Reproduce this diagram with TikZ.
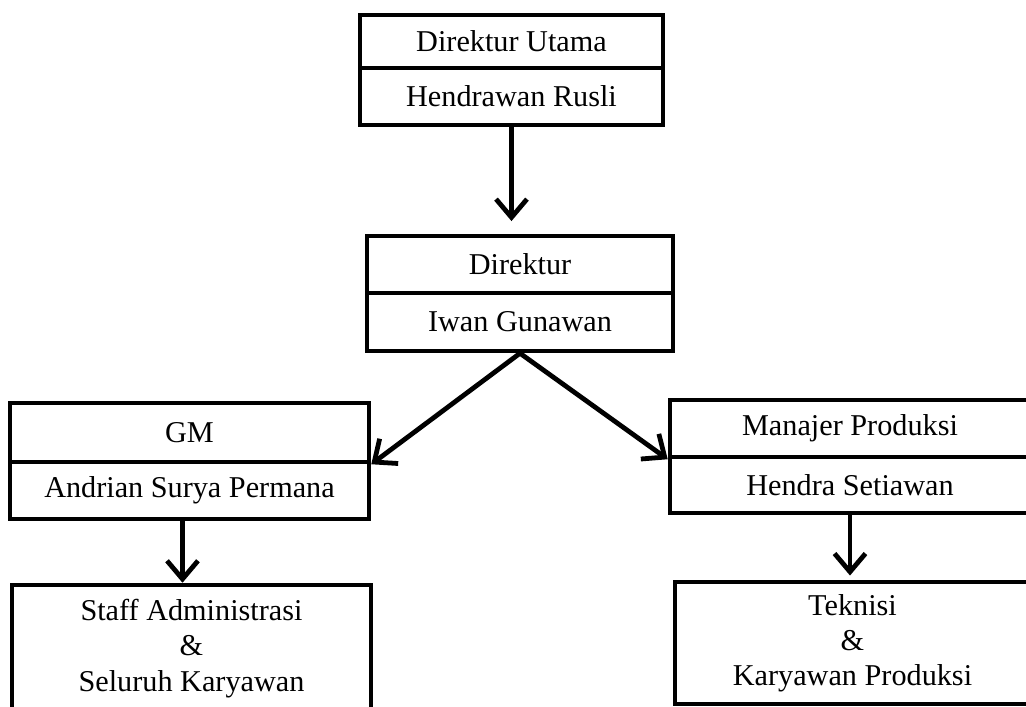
\documentclass[tikz,border=0pt]{standalone}
\usepackage{fontspec}
\setmainfont{Liberation Serif}
\usetikzlibrary{arrows.meta}

\begin{document}
\begin{tikzpicture}[x=0.025cm, y=-0.025cm,
    kotak/.style={draw, line width=3.2pt, inner sep=0pt, align=center,
        font=\fontsize{21.5}{25}\selectfont},
    panah/.style={line width=3.4pt, -{Straight Barb[length=13pt, width=22pt]}}]
    \useasboundingbox (0,0) rectangle (1026,707);

    % Direktur Utama
    \node[kotak, minimum width=7.575cm, minimum height=1.325cm] (dirut) at (511.5,41.5) {Direktur Utama};
    \node[kotak, minimum width=7.575cm, minimum height=1.425cm] (dirutnama) at (511.5,96.5) {Hendrawan Rusli};

    % Direktur
    \node[kotak, minimum width=7.65cm, minimum height=1.425cm] (dir) at (520,264.5) {Direktur};
    \node[kotak, minimum width=7.65cm, minimum height=1.45cm] (dirnama) at (520,322) {Iwan Gunawan};

    % GM
    \node[kotak, minimum width=8.975cm, minimum height=1.475cm] (gm) at (189.5,432.5) {GM};
    \node[kotak, minimum width=8.975cm, minimum height=1.425cm] (gmnama) at (189.5,490.5) {Andrian Surya Permana};

    % Manajer Produksi
    \node[kotak, minimum width=9cm, minimum height=1.425cm] (mp) at (850,428.5) {Manajer Produksi};
    \node[kotak, minimum width=9cm, minimum height=1.4cm] (mpnama) at (850,485) {Hendra Setiawan};

    % Bawahan
    \node[kotak, minimum width=8.975cm, minimum height=3.175cm] (staff) at (191.5,648.5) {Staff Administrasi\\\&\\Seluruh Karyawan};
    \node[kotak, minimum width=8.875cm, minimum height=3.05cm] (teknisi) at (852.5,643) {Teknisi\\\&\\Karyawan Produksi};

    % Garis komando
    \draw[panah, shorten >=9pt] (dirutnama.south) -- (dirutnama.south |- dir.north);
    \draw[panah] (dirnama.south) -- (gm.south east);
    \draw[panah] (dirnama.south) -- (mp.south west);
    \draw[panah] ([xshift=-7*0.025cm]gmnama.south) -- ([xshift=-7*0.025cm]gmnama.south |- staff.north);
    \draw[panah, shorten >=3pt] (mpnama.south) -- (mpnama.south |- teknisi.north);
\end{tikzpicture}
\end{document}
